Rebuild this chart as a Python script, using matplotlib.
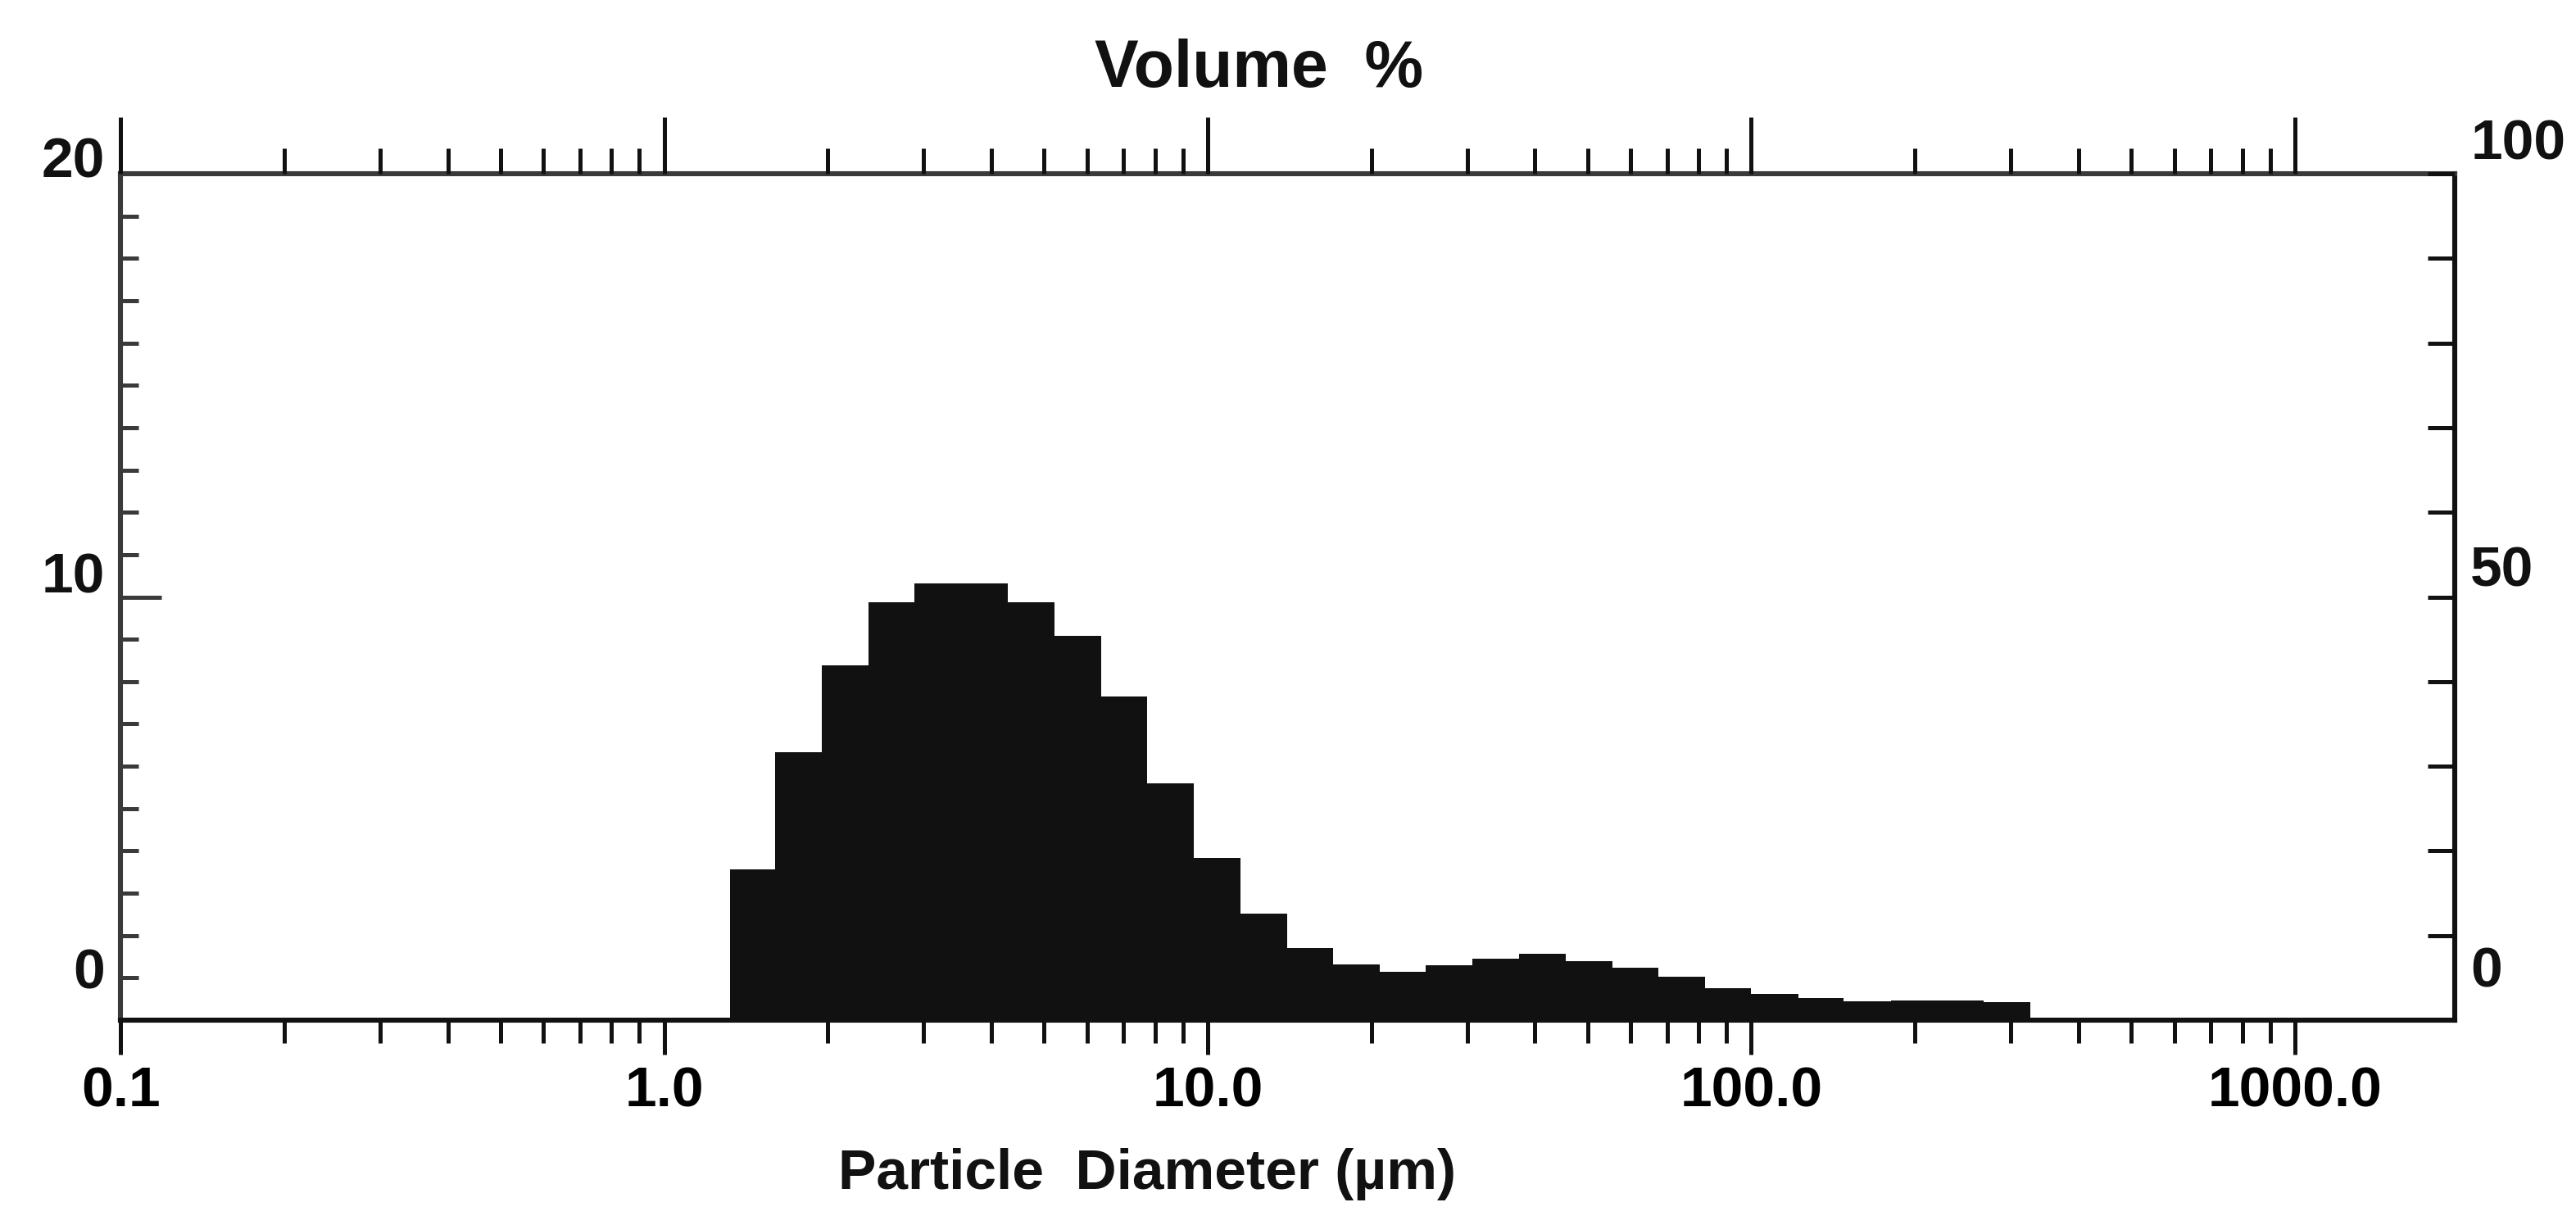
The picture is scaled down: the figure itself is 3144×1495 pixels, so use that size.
import matplotlib
matplotlib.use('Agg')
import matplotlib.pyplot as plt
from matplotlib import font_manager
from matplotlib.ticker import FixedLocator, FixedFormatter, LogLocator, MultipleLocator, NullFormatter
from matplotlib.transforms import blended_transform_factory

bin_edges = [1.32, 1.60, 1.95, 2.38, 2.89, 3.52, 4.29, 5.22, 6.36, 7.74, 9.43,
             11.5, 14.0, 17.0, 20.7, 25.2, 30.7, 37.4, 45.6, 55.5, 67.5, 82.2,
             100.0, 122.0, 148.0, 181.0, 220.0, 268.0, 326.0]
volume_pct = [3.56, 6.33, 8.38, 9.87, 10.32, 10.32, 9.87, 9.08, 7.65, 5.60, 3.83,
              2.52, 1.70, 1.32, 1.14, 1.30, 1.45, 1.57, 1.39, 1.24, 1.03, 0.76,
              0.62, 0.52, 0.45, 0.46, 0.46, 0.43]

x_ticks = [0.1, 1.0, 10.0, 100.0, 1000.0]
x_tick_labels = ["0.1", "1.0", "10.0", "100.0", "1000.0"]
left_labels = ["20", "10", "0"]
left_label_y = [20.27, 10.45, 1.10]     # labels sit a bit above their ticks in the original
right_labels = ["100", "50", "0"]
right_label_y = [103.4, 53.0, 5.7]

names = {f.name for f in font_manager.fontManager.ttflist}
family = "Liberation Sans" if "Liberation Sans" in names else "DejaVu Sans"
plt.rcParams['font.family'] = [family, 'DejaVu Sans']
plt.rcParams['font.weight'] = 'bold'

ink = '#111111'
fig = plt.figure(figsize=(15.72, 7.475), dpi=200)
ax = fig.add_axes([0.0468, 0.1672, 0.9062, 0.6910])

ax.stairs(volume_pct, bin_edges, fill=True, color=ink, baseline=0)
ax.set_xscale('log')
ax.set_xlim(0.1, 1970)
ax.set_ylim(0, 20)

for s in ax.spines.values():
    s.set_linewidth(2.2)
    s.set_color(ink)
ax.spines['top'].set_color('#3a3a3a')
ax.spines['left'].set_color('#3a3a3a')

# bottom axis
ax.xaxis.set_major_locator(FixedLocator(x_ticks))
ax.xaxis.set_major_formatter(FixedFormatter(x_tick_labels))
ax.xaxis.set_minor_locator(LogLocator(base=10, subs=range(2, 10), numticks=20))
ax.xaxis.set_minor_formatter(NullFormatter())
ax.tick_params(axis='x', which='major', direction='out', length=15, width=1.8,
               color=ink, labelsize=25, pad=5, top=False)
ax.tick_params(axis='x', which='minor', direction='out', length=10, width=1.8,
               color=ink, top=False)

# left axis: ticks every 1, long at 10
ax.yaxis.set_major_locator(MultipleLocator(10))
ax.yaxis.set_minor_locator(MultipleLocator(1))
ax.tick_params(axis='y', which='major', direction='in', length=18, width=1.8,
               color='#3a3a3a', labelleft=False)
ax.tick_params(axis='y', which='minor', direction='in', length=8, width=1.8,
               color='#3a3a3a')

# top axis repeats the log ticks, pointing up
axt = ax.twiny()
axt.set_xscale('log')
axt.set_xlim(ax.get_xlim())
axt.xaxis.set_major_locator(FixedLocator(x_ticks))
axt.xaxis.set_minor_locator(LogLocator(base=10, subs=range(2, 10), numticks=20))
axt.xaxis.set_minor_formatter(NullFormatter())
axt.tick_params(axis='x', which='major', direction='out', length=25, width=1.8,
                color=ink, labeltop=False)
axt.tick_params(axis='x', which='minor', direction='out', length=11, width=1.8,
                color=ink)
for s in axt.spines.values():
    s.set_visible(False)

# right axis 0-100, ticks every 10
axr = ax.twinx()
axr.set_ylim(0, 100)
axr.yaxis.set_major_locator(MultipleLocator(10))
axr.tick_params(axis='y', which='major', direction='in', length=12, width=1.8,
                color=ink, labelright=False)
for s in axr.spines.values():
    s.set_visible(False)

tl = blended_transform_factory(ax.transAxes, ax.transData)
for lab, y in zip(left_labels, left_label_y):
    ax.text(-0.0067, y, lab, transform=tl, ha='right', va='center',
            fontsize=25, fontweight='bold', color=ink)
tr = blended_transform_factory(axr.transAxes, axr.transData)
for lab, y in zip(right_labels, right_label_y):
    axr.text(1.0067, y, lab, transform=tr, ha='left', va='center',
             fontsize=25, fontweight='bold', color=ink, clip_on=False)

fig.text(0.4886, 0.943, "Volume  %", ha='center', va='center',
         fontsize=29, fontweight='bold', color=ink)
fig.text(0.4453, 0.0415, "Particle  Diameter (\u00b5m)", ha='center', va='center',
         fontsize=25, fontweight='bold', color=ink)

fig.savefig('out.png', dpi=200, facecolor='white')
